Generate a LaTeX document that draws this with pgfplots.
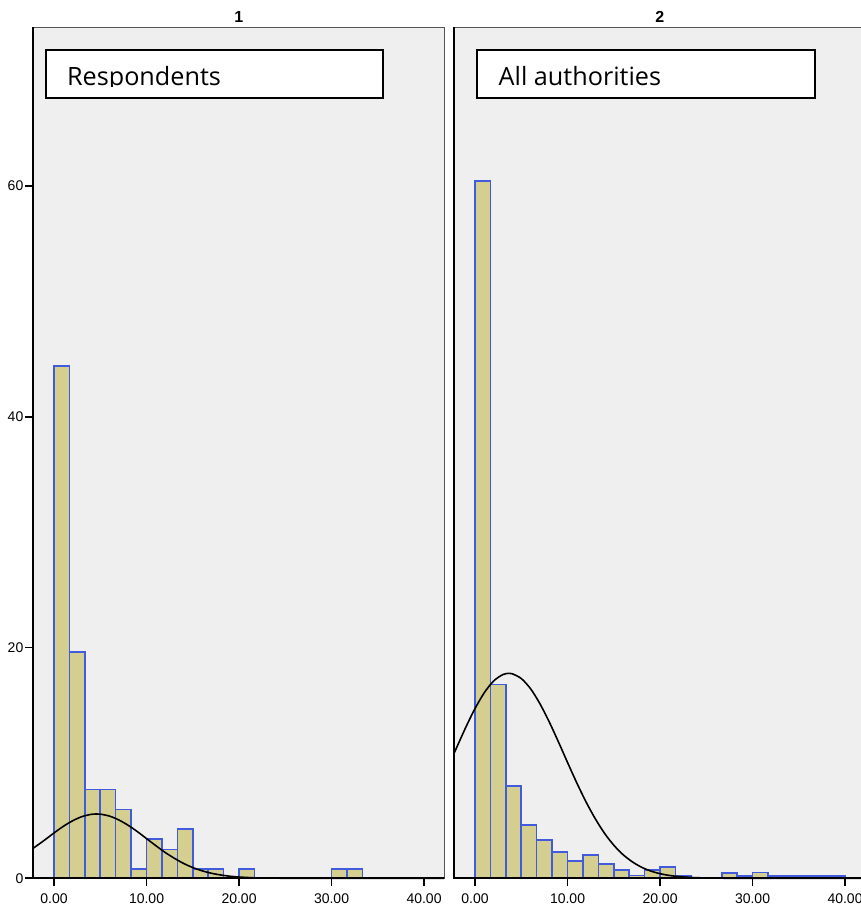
\documentclass[border=0pt]{standalone}
\usepackage{fontspec}
\setmainfont{Liberation Sans}
\newfontfamily\boxfont{Open Sans}
\usepackage{pgfplots}
\pgfplotsset{compat=1.18}

\definecolor{panelbg}{HTML}{EFEFEF}
\definecolor{barfill}{RGB}{212,206,144}
\definecolor{baredge}{RGB}{66,90,220}
\definecolor{framegray}{HTML}{555555}

% bin heights, one row per bin (left edge, height); last row closes the range
\pgfplotstableread{
x      y
0       44.4
1.6667  19.6
3.3333  7.7
5       7.7
6.6667  5.95
8.3333  0.8
10      3.4
11.6667 2.5
13.3333 4.25
15      0.8
16.6667 0.8
18.3333 0
20      0.8
21.6667 0
23.3333 0
25      0
26.6667 0
28.3333 0
30      0.8
31.6667 0.8
33.3333 0
35      0
36.6667 0
38.3333 0
40      0
}\respondents

\pgfplotstableread{
x      y
0       60.4
1.6667  16.8
3.3333  8.0
5       4.6
6.6667  3.3
8.3333  2.3
10      1.5
11.6667 2.0
13.3333 1.25
15      0.7
16.6667 0.25
18.3333 0.7
20      1.0
21.6667 0.2
23.3333 0
25      0
26.6667 0.45
28.3333 0.2
30      0.5
31.6667 0.2
33.3333 0.2
35      0.2
36.6667 0.2
38.3333 0.2
40      0
}\authorities

\pgfplotsset{
  histpanel/.style={
    width=205.5pt, height=425.5pt, scale only axis,
    xmin=-2.24, xmax=42.19, ymin=0, ymax=73.74,
    axis background/.style={fill=panelbg},
    axis line style={draw=framegray, line width=0.6pt},
    xtick={0,10,20,30,40},
    xticklabels={0.00,10.00,20.00,30.00,40.00},
    tick align=outside, xtick pos=bottom, ytick pos=left,
    major tick length=4pt,
    tick style={black, line width=0.9pt},
    tick label style={font=\fontsize{7}{8}\selectfont},
    yticklabel style={inner sep=0.8pt},
    every axis title/.style={font=\fontsize{8}{9}\selectfont\bfseries,
      at={(0.5,1)}, anchor=south, inner sep=0pt, yshift=2pt},
    clip=false,
  },
  barfills/.style={ybar interval, fill=barfill, draw=none},
  baredges/.style={ybar interval, fill=none, draw=baredge, line width=0.8pt},
  fitcurve/.style={black, line width=0.8pt, smooth, mark=none},
}

\begin{document}
\begin{tikzpicture}
\fill[white] (0,0) rectangle (430.5pt,453pt);

% Panel 1: respondents
\begin{axis}[histpanel, name=L, at={(16.65pt,13.85pt)}, anchor=south west,
  title={1}, ytick={0,20,40,60}, yticklabels={0,20,40,60}]
\addplot[barfills] table[x=x, y=y] {\respondents};
\addplot[baredges] table[x=x, y=y] {\respondents};
\addplot[fitcurve] coordinates {
  (-2.24,2.61) (-1,3.32) (0,3.93) (1,4.50) (2,4.98) (3,5.34) (4,5.54)
  (4.6,5.57) (5,5.56) (6,5.39) (7,5.06) (8,4.60) (9,4.05) (10,3.44)
  (11,2.83) (12,2.25) (13,1.74) (14,1.29) (15,0.93) (16,0.65) (17,0.44)
  (18,0.29) (19,0.18) (20,0.11) (21,0.065) (22,0.037) (24,0.011)
  (26,0.003) (28,0.0006) (30,0) (42.19,0)
};
\end{axis}

% Panel 2: all authorities
\begin{axis}[histpanel, name=R, at={(227.15pt,13.85pt)}, anchor=south west,
  title={2}, ytick=\empty]
\addplot[barfills] table[x=x, y=y] {\authorities};
\addplot[baredges] table[x=x, y=y] {\authorities};
\addplot[fitcurve] coordinates {
  (-2.27,10.82) (-1,13.08) (0,14.71) (1,16.08) (2,17.09) (3,17.65)
  (3.65,17.76) (4,17.73) (5,17.31) (6,16.43) (7,15.15) (8,13.59)
  (9,11.85) (10,10.04) (11,8.27) (12,6.62) (13,5.16) (14,3.90)
  (15,2.87) (16,2.05) (17,1.43) (18,0.96) (19,0.63) (20,0.40)
  (21,0.25) (22,0.15) (23,0.089) (24,0.051) (26,0.015) (28,0.004)
  (30,0.001) (35,0) (42.19,0)
};
\end{axis}

% dark axis lines on the left and bottom of each panel
\draw[black, line width=1pt] (L.north west) -- (L.south west) -- (L.south east);
\draw[black, line width=1pt] (R.north west) -- (R.south west) -- (R.south east);

% panel captions
\draw[black, line width=1pt, fill=white] (22.85pt,403.75pt) rectangle (191.5pt,428pt);
\draw[black, line width=1pt, fill=white] (238.65pt,403.75pt) rectangle (407.5pt,428pt);
\begin{scope}
  \clip (22.85pt,409.65pt) rectangle (191.5pt,428pt);
  \node[anchor=base west, inner sep=0pt, font=\boxfont\fontsize{12.6}{14}\selectfont]
    at (33.35pt,410pt) {Respondents};
\end{scope}
\begin{scope}
  \clip (238.65pt,409.65pt) rectangle (407.5pt,428pt);
  \node[anchor=base west, inner sep=0pt, font=\boxfont\fontsize{12.6}{14}\selectfont]
    at (249.15pt,410pt) {All authorities};
\end{scope}

\pgfresetboundingbox
\useasboundingbox (0,0) rectangle (430.5pt,453pt);
\end{tikzpicture}
\end{document}
